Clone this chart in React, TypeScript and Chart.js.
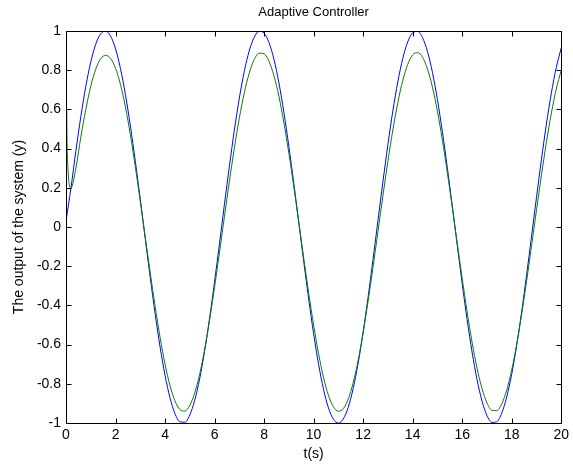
import { useEffect, useRef } from "react";
import { Chart, registerables } from "chart.js";

Chart.register(...registerables);

// Sample times (s)
const time = [
  0, 0.2, 0.4, 0.6, 0.8, 1.0, 1.2, 1.4, 1.6, 1.8,
  2.0, 2.2, 2.4, 2.6, 2.8, 3.0, 3.2, 3.4, 3.6, 3.8,
  4.0, 4.2, 4.4, 4.6, 4.8, 5.0, 5.2, 5.4, 5.6, 5.8,
  6.0, 6.2, 6.4, 6.6, 6.8, 7.0, 7.2, 7.4, 7.6, 7.8,
  8.0, 8.2, 8.4, 8.6, 8.8, 9.0, 9.2, 9.4, 9.6, 9.8,
  10.0, 10.2, 10.4, 10.6, 10.8, 11.0, 11.2, 11.4, 11.6, 11.8,
  12.0, 12.2, 12.4, 12.6, 12.8, 13.0, 13.2, 13.4, 13.6, 13.8,
  14.0, 14.2, 14.4, 14.6, 14.8, 15.0, 15.2, 15.4, 15.6, 15.8,
  16.0, 16.2, 16.4, 16.6, 16.8, 17.0, 17.2, 17.4, 17.6, 17.8,
  18.0, 18.2, 18.4, 18.6, 18.8, 19.0, 19.2, 19.4, 19.6, 19.8,
  20.0,
];

// Reference signal (blue), one value per entry of `time`
const reference = [
  0.03, 0.1987, 0.3894, 0.5646, 0.7174, 0.8415, 0.932, 0.9854, 0.9996, 0.9738,
  0.9093, 0.8085, 0.6755, 0.5155, 0.335, 0.1411, -0.0584, -0.2555, -0.4425, -0.6119,
  -0.7568, -0.8716, -0.9516, -0.9937, -0.9962, -0.9589, -0.8835, -0.7728, -0.6313, -0.4646,
  -0.2794, -0.0831, 0.1165, 0.3115, 0.4941, 0.657, 0.7937, 0.8987, 0.9679, 0.9985,
  0.9894, 0.9407, 0.8546, 0.7344, 0.5849, 0.4121, 0.2229, 0.0248, -0.1743, -0.3665,
  -0.544, -0.6999, -0.8278, -0.9228, -0.9809, -1.0, -0.9792, -0.9193, -0.8228, -0.6938,
  -0.5366, -0.3582, -0.1655, 0.0336, 0.2315, 0.4202, 0.5921, 0.7404, 0.8591, 0.9437,
  0.9906, 0.998, 0.9657, 0.8948, 0.7883, 0.6503, 0.4864, 0.3031, 0.1078, -0.0919,
  -0.2879, -0.4724, -0.6381, -0.7784, -0.8876, -0.9614, -0.9969, -0.9927, -0.9488, -0.8672,
  -0.751, -0.6048, -0.4346, -0.247, -0.0495, 0.1499, 0.3433, 0.5231, 0.682, 0.8137,
  0.9129,
];

// System output (green): initial transient, then one value per entry of time[1..]
const outputStartTime = [0.03, 0.05];
const outputStart = [0.6, 0.38];
const output = [
  0.2, 0.3, 0.46, 0.6, 0.718, 0.805, 0.858, 0.876, 0.86,
  0.81, 0.727, 0.613, 0.47, 0.307, 0.131, -0.051, -0.232, -0.405, -0.563,
  -0.7, -0.809, -0.887, -0.931, -0.939, -0.91, -0.846, -0.75, -0.624, -0.474,
  -0.307, -0.128, 0.054, 0.234, 0.403, 0.555, 0.685, 0.785, 0.854, 0.887,
  0.884, 0.845, 0.771, 0.666, 0.532, 0.377, 0.206, 0.025, -0.157, -0.335,
  -0.5, -0.646, -0.767, -0.859, -0.917, -0.94, -0.927, -0.877, -0.793, -0.68,
  -0.539, -0.378, -0.204, -0.022, 0.16, 0.335, 0.495, 0.634, 0.747, 0.829,
  0.878, 0.89, 0.866, 0.806, 0.713, 0.591, 0.444, 0.279, 0.101, -0.082,
  -0.262, -0.433, -0.588, -0.72, -0.824, -0.897, -0.935, -0.937, -0.902, -0.832,
  -0.73, -0.6, -0.447, -0.278, -0.098, 0.085, 0.263, 0.43, 0.579, 0.704,
  0.799,
];

const xTicks = [0, 2, 4, 6, 8, 10, 12, 14, 16, 18, 20];
const xTickLabels = ["0", "2", "4", "6", "8", "10", "12", "14", "16", "18", "20"];
const yTicks = [-1, -0.8, -0.6, -0.4, -0.2, 0, 0.2, 0.4, 0.6, 0.8, 1];
const yTickLabels = ["-1", "-0.8", "-0.6", "-0.4", "-0.2", "0", "0.2", "0.4", "0.6", "0.8", "1"];

const FONT = '"Liberation Sans", Arial, Helvetica, sans-serif';

const boxAndTicks = {
  id: "boxAndTicks",
  afterDatasetsDraw(chart: any) {
    const { ctx, chartArea, scales } = chart;
    const left = Math.round(chartArea.left) + 0.5;
    const right = Math.round(chartArea.right) + 0.5;
    const top = Math.round(chartArea.top) + 0.5;
    const bottom = Math.round(chartArea.bottom) + 0.5;
    const len = 5;
    ctx.save();
    ctx.strokeStyle = "#000";
    ctx.lineWidth = 1;
    ctx.beginPath();
    ctx.moveTo(left, top);
    ctx.lineTo(right, top);
    ctx.lineTo(right, bottom);
    ctx.lineTo(left, bottom);
    ctx.closePath();
    for (const v of xTicks) {
      const px = Math.round(scales.x.getPixelForValue(v)) + 0.5;
      ctx.moveTo(px, bottom);
      ctx.lineTo(px, bottom - len);
      ctx.moveTo(px, top);
      ctx.lineTo(px, top + len);
    }
    for (const v of yTicks) {
      const py = Math.round(scales.y.getPixelForValue(v)) + 0.5;
      ctx.moveTo(left, py);
      ctx.lineTo(left + len, py);
      ctx.moveTo(right, py);
      ctx.lineTo(right - len, py);
    }
    ctx.stroke();
    ctx.restore();
  },
};

export default function App() {
  const canvasRef = useRef<HTMLCanvasElement | null>(null);

  useEffect(() => {
    const canvas = canvasRef.current;
    if (!canvas) return;

    const refData = time.map((t, i) => ({ x: t, y: reference[i] }));
    const outData = [
      ...outputStartTime.map((t, i) => ({ x: t, y: outputStart[i] })),
      ...output.map((v, i) => ({ x: time[i + 1], y: v })),
    ];

    const chart = new Chart(canvas, {
      type: "line",
      data: {
        datasets: [
          {
            label: "y",
            data: outData,
            borderColor: "#008000",
            borderWidth: 1,
            pointRadius: 0,
            cubicInterpolationMode: "monotone",
            fill: false,
            order: 0,
          },
          {
            label: "reference",
            data: refData,
            borderColor: "#0000ff",
            borderWidth: 1,
            pointRadius: 0,
            cubicInterpolationMode: "monotone",
            fill: false,
            order: 1,
          },
        ],
      },
      options: {
        responsive: false,
        animation: false,
        events: [],
        layout: { padding: { left: 0, right: 9, top: 0, bottom: 8 } },
        plugins: {
          legend: { display: false },
          tooltip: { enabled: false },
          title: {
            display: true,
            text: "Adaptive Controller",
            fullSize: false,
            color: "#000",
            font: { family: FONT, size: 13, weight: "normal", lineHeight: "16px" },
            padding: { top: 4, bottom: 11 },
          },
        },
        scales: {
          x: {
            type: "linear",
            min: 0,
            max: 20,
            afterBuildTicks: (axis: any) => {
              axis.ticks = xTicks.map((v) => ({ value: v }));
            },
            afterFit: (s: any) => {
              s.height = 39;
            },
            grid: { display: false, drawTicks: false },
            border: { display: false },
            ticks: {
              color: "#000",
              padding: 4,
              maxRotation: 0,
              autoSkip: false,
              font: { family: FONT, size: 14 },
              callback: (_v: any, i: number) => xTickLabels[i],
            },
            title: {
              display: true,
              text: "t(s)",
              color: "#000",
              font: { family: FONT, size: 14, lineHeight: "16px" },
              padding: { top: 0, bottom: 0 },
            },
          },
          y: {
            type: "linear",
            min: -1,
            max: 1,
            afterBuildTicks: (axis: any) => {
              axis.ticks = yTicks.map((v) => ({ value: v }));
            },
            afterFit: (s: any) => {
              s.width = 66;
            },
            grid: { display: false, drawTicks: false },
            border: { display: false },
            ticks: {
              color: "#000",
              padding: 5,
              autoSkip: false,
              font: { family: FONT, size: 14 },
              callback: (_v: any, i: number) => yTickLabels[i],
            },
            title: {
              display: true,
              text: "The output of the system (y)",
              color: "#000",
              font: { family: FONT, size: 14, lineHeight: "16px" },
              padding: { top: 11, bottom: 0 },
            },
          },
        },
      },
      plugins: [boxAndTicks],
    } as any);

    return () => chart.destroy();
  }, []);

  return (
    <div style={{ position: "fixed", left: 0, top: 0, width: 573, height: 470, background: "#fff" }}>
      <canvas ref={canvasRef} width={573} height={470} style={{ display: "block" }} />
    </div>
  );
}
